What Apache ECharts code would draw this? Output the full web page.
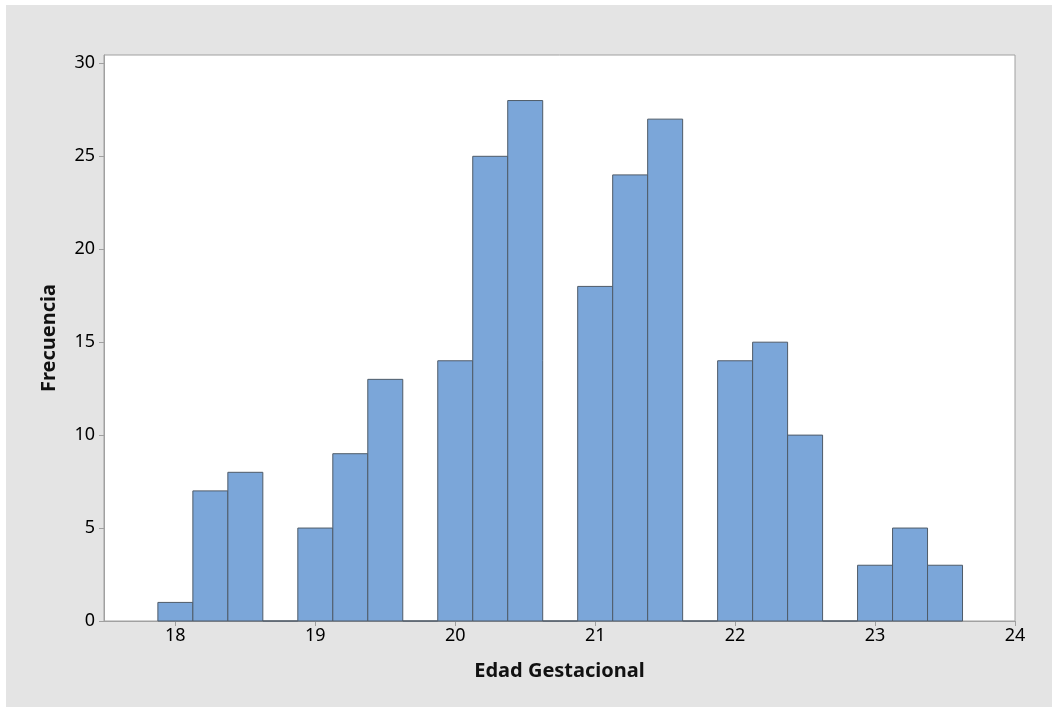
<!DOCTYPE html>
<html>
<head>
<meta charset="utf-8">
<script src="https://cdn.jsdelivr.net/npm/echarts@6/dist/echarts.min.js"></script>
<style>
  html, body { margin: 0; padding: 0; background: #fff; }
  #main { position: absolute; left: 6px; top: 5px; width: 1046px; height: 702px; }
</style>
</head>
<body>
<div id="main"></div>
<script>
// histogram data
const binWidth = 0.25
const binCenters = [18, 18.25, 18.5, 18.75, 19, 19.25, 19.5, 19.75, 20, 20.25, 20.5, 20.75,
  21, 21.25, 21.5, 21.75, 22, 22.25, 22.5, 22.75, 23, 23.25, 23.5]
const counts = [1, 7, 8, 0, 5, 9, 13, 0, 14, 25, 28, 0, 18, 24, 27, 0, 14, 15, 10, 0, 3, 5, 3]
const xTicks = [18, 19, 20, 21, 22, 23, 24]
const yTicks = [0, 5, 10, 15, 20, 25, 30]

const data = binCenters.map((c, i) => [c - binWidth / 2, c + binWidth / 2, counts[i]])

const font = "'Noto Sans', sans-serif"

const options = {
  backgroundColor: "#e4e4e4",
  animation: false,
  grid: {
    left: 98, right: 37, top: 50, bottom: 86,
    show: true, borderColor: "#a0a0a0", borderWidth: 1, backgroundColor: "#fff"
  },
  xAxis: {
    type: "value", min: 17.49, max: 24,
    name: "Edad Gestacional", nameLocation: "middle", nameGap: 40,
    nameTextStyle: { fontFamily: font, fontSize: 20, fontWeight: "bold", color: "#111" },
    axisLine: { show: true, lineStyle: { color: "#a0a0a0" } },
    axisTick: { show: true, length: 5, lineStyle: { color: "#a0a0a0" }, customValues: xTicks },
    axisLabel: { fontFamily: font, fontSize: 18, color: "#000", margin: 6, customValues: xTicks },
    splitLine: { show: false }
  },
  yAxis: {
    type: "value", min: 0, max: 30.45,
    name: "Frecuencia", nameLocation: "middle", nameGap: 45,
    nameTextStyle: { fontFamily: font, fontSize: 20, fontWeight: "bold", color: "#111" },
    axisLine: { show: true, lineStyle: { color: "#a0a0a0" } },
    axisTick: { show: true, length: 5, lineStyle: { color: "#a0a0a0" }, customValues: yTicks },
    axisLabel: { fontFamily: font, fontSize: 18, color: "#000", margin: 9, customValues: yTicks },
    splitLine: { show: false }
  },
  series: [{
    type: "custom",
    data: data,
    encode: { x: [0, 1], y: 2 },
    renderItem: (params, api) => {
      const p0 = api.coord([api.value(0), 0])
      const p1 = api.coord([api.value(1), api.value(2)])
      return {
        type: "rect",
        shape: { x: p0[0], y: p1[1], width: p1[0] - p0[0], height: p0[1] - p1[1] },
        style: { fill: "#7ba6d9", stroke: "#4f5b68", lineWidth: 1 }
      }
    }
  }]
}

const myChart = echarts.init(document.getElementById("main"))
myChart.setOption(options)
window.onresize = () => myChart.resize()
</script>
</body>
</html>
